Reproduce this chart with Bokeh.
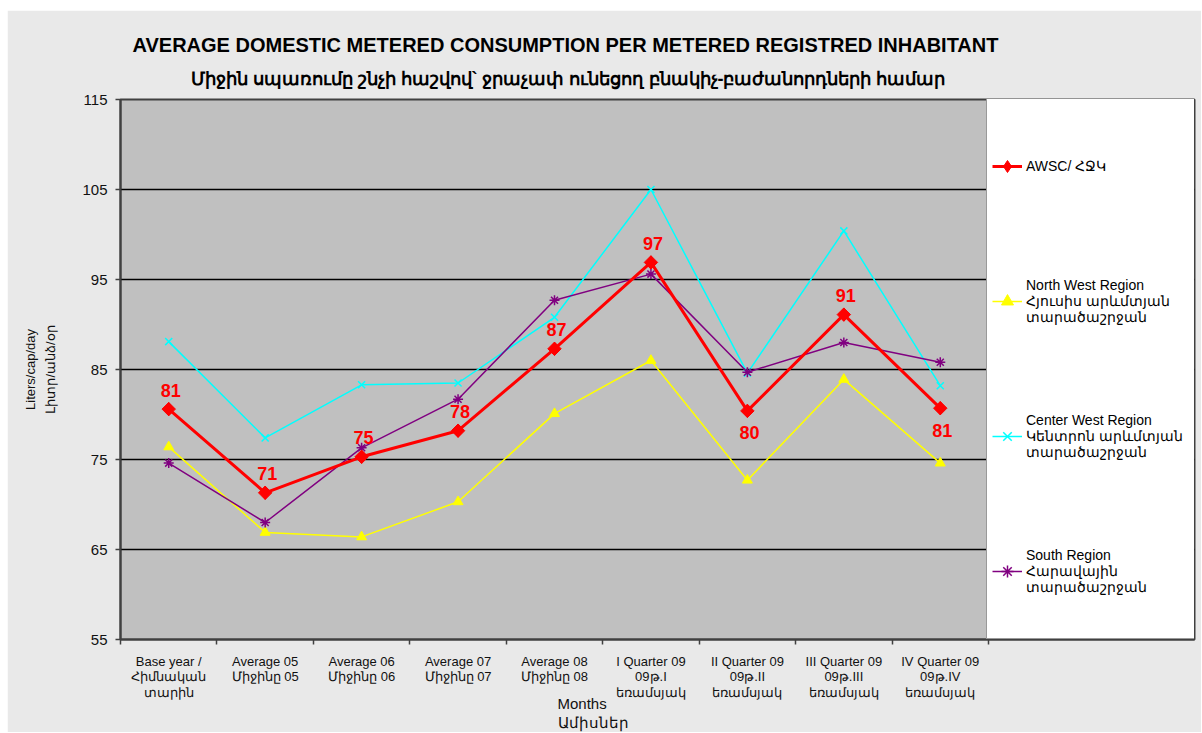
from bokeh.plotting import figure
from bokeh.models import (ColumnDataSource, Range1d, FixedTicker, LabelSet,
                          Legend, LegendItem, Title)
from bokeh.core.properties import value
from bokeh.embed import file_html
from bokeh.resources import INLINE
import math

# ---------------- data ----------------
categories = ["Base year /\nՀիմնական\nտարին",
              "Average 05\nՄիջինը 05",
              "Average 06\nՄիջինը 06",
              "Average 07\nՄիջինը 07",
              "Average 08\nՄիջինը 08",
              "I Quarter 09\n09թ.I\nեռամսյակ",
              "II Quarter 09\n09թ.II\nեռամսյակ",
              "III Quarter 09\n09թ.III\nեռամսյակ",
              "IV Quarter 09\n09թ.IV\nեռամսյակ"]

awsc        = [80.6, 71.3, 75.3, 78.2, 87.3, 96.9, 80.4, 91.1, 80.7]
north_west  = [76.4, 66.9, 66.4, 70.3, 80.1, 86.0, 72.7, 83.9, 74.6]
center_west = [88.1, 77.4, 83.3, 83.5, 90.8, 105.0, 84.6, 100.4, 83.2]
south       = [74.6, 68.0, 76.3, 81.7, 92.7, 95.6, 84.7, 88.0, 85.8]

y_ticks = [55, 65, 75, 85, 95, 105, 115]

series_names = ["AWSC/ ՀՋԿ",
                "North West Region\nՀյուսիս արևմտյան\nտարածաշրջան",
                "Center West Region\nԿենտրոն արևմտյան\nտարածաշրջան",
                "South Region\nՀարավային\nտարածաշրջան"]

title_en = "AVERAGE DOMESTIC METERED CONSUMPTION  PER METERED  REGISTRED INHABITANT"
title_hy = "Միջին սպառումը շնչի հաշվով` ջրաչափ ունեցող բնակիչ-բաժանորդների համար"
y_label = "Liters/cap/day\nԼիտր/անձ/օր"
x_label = "Months\nԱմիսներ"

# ---------------- figure ----------------
FONT = "Liberation Sans"
xs = list(range(len(categories)))

W, H = 1194, 722
LEFT, TOP = 113, 89
PLOT_W, FRAME_H = 868, 540          # category area width, frame height
FRAME_W = W - LEFT - 7              # frame also hosts the legend box on its right
x_end = -0.5 + len(categories) * FRAME_W / PLOT_W

p = figure(width=W, height=H, title=None, margin=(10, 0, 0, 7),
           x_range=Range1d(-0.5, x_end),
           y_range=Range1d(y_ticks[0], y_ticks[-1]),
           output_backend="svg", toolbar_location=None,
           min_border_left=LEFT, min_border_right=W - LEFT - FRAME_W,
           min_border_top=TOP, min_border_bottom=H - TOP - FRAME_H)

p.background_fill_color = "#c0c0c0"
p.border_fill_color = "#e9e9e9"
p.outline_line_color = "#404040"
p.outline_line_width = 2

# titles (second line added first so it sits closest to the plot)
p.add_layout(Title(text=title_hy, align="left", offset=70, text_font=FONT,
                   text_font_size="18px", text_font_style="bold",
                   text_color="black", standoff=22), "above")
p.add_layout(Title(text=title_en, align="left", offset=12, text_font=FONT,
                   text_font_size="20px", text_font_style="bold",
                   text_color="black", standoff=0), "above")

# grid
p.xgrid.visible = False
p.ygrid.ticker = FixedTicker(ticks=y_ticks)
p.ygrid.grid_line_color = "black"
p.ygrid.grid_line_width = 1.5

# y axis
p.yaxis.ticker = FixedTicker(ticks=y_ticks)
p.yaxis.axis_line_color = "#404040"
p.yaxis.axis_line_width = 2
p.yaxis.major_tick_line_color = "#404040"
p.yaxis.major_tick_line_width = 1.5
p.yaxis.major_tick_out = 5
p.yaxis.major_tick_in = 0
p.yaxis.minor_tick_line_color = None
p.yaxis.major_label_standoff = 8
p.yaxis.major_label_text_font = FONT
p.yaxis.major_label_text_font_size = "15px"
p.yaxis.major_label_text_color = "#111111"
p.yaxis.axis_label = y_label
p.yaxis.axis_label_text_font = FONT
p.yaxis.axis_label_text_font_size = "13px"
p.yaxis.axis_label_text_font_style = "normal"
p.yaxis.axis_label_text_color = "#111111"
p.yaxis.axis_label_text_line_height = 1.35
p.yaxis.axis_label_standoff = 21

# x axis
p.xaxis.ticker = FixedTicker(ticks=xs, minor_ticks=[i - 0.5 for i in range(len(xs) + 1)])
p.xaxis.major_label_overrides = {i: c for i, c in zip(xs, categories)}
p.xaxis.axis_line_color = "#404040"
p.xaxis.axis_line_width = 2
p.xaxis.major_tick_line_color = None
p.xaxis.major_tick_out = 0
p.xaxis.major_tick_in = 0
p.xaxis.minor_tick_line_color = "#404040"
p.xaxis.minor_tick_line_width = 1.5
p.xaxis.minor_tick_out = 5
p.xaxis.minor_tick_in = 0
p.xaxis.major_label_standoff = 9
p.xaxis.major_label_text_font = FONT
p.xaxis.major_label_text_font_size = "13px"
p.xaxis.major_label_text_line_height = 1.05
p.xaxis.major_label_text_color = "#111111"

# x axis title, placed under the category area
p.add_layout(Title(text=x_label, align="left", offset=437, text_font=FONT,
                   text_font_size="15px", text_font_style="normal",
                   text_line_height=1.15, text_color="#111111",
                   vertical_align="top", standoff=-18), "below")

# ---------------- series ----------------
src_awsc = ColumnDataSource(dict(x=xs, y=awsc, txt=[f"{v:.0f}" for v in awsc],
                                 dy=[-22 if i in (6, 8) else 19 for i in xs]))
src_nw = ColumnDataSource(dict(x=xs, y=north_west))
src_cw = ColumnDataSource(dict(x=xs, y=center_west))
src_s = ColumnDataSource(dict(x=xs, y=south))

l_nw = p.line("x", "y", source=src_nw, color="#ffff00", line_width=1.5)
m_nw = p.scatter("x", "y", source=src_nw, marker="triangle", size=10,
                 fill_color="#ffff00", line_color="#ffff00")
l_cw = p.line("x", "y", source=src_cw, color="#00ffff", line_width=1.5)
m_cw = p.scatter("x", "y", source=src_cw, marker="x", size=10,
                 line_color="#00ffff", line_width=1.5)
l_s = p.line("x", "y", source=src_s, color="#800080", line_width=1.5)
m_s = p.scatter("x", "y", source=src_s, marker="asterisk", size=10,
                line_color="#800080", line_width=1.5)
l_a = p.line("x", "y", source=src_awsc, color="#ff0000", line_width=3)
m_a_leg = p.scatter("x", "y", source=src_awsc, marker="diamond", size=13,
                    fill_color="#ff0000", line_color="#ff0000")
m_a = p.scatter("x", "y", source=src_awsc, marker="square", size=9.5, angle=math.pi / 4,
                fill_color="#ff0000", line_color="#ff0000")

labels = LabelSet(x="x", y="y", text="txt", y_offset="dy", x_offset=2, source=src_awsc,
                  text_align="center", text_baseline="middle",
                  text_font=value(FONT), text_font_size=value("18px"),
                  text_font_style="bold", text_color="#ff0000")
p.add_layout(labels)

# ---------------- legend (inside the frame, right of the category area) ----------------
LEG_PAD, LEG_GLYPH, LEG_STAND = 5, 30, 4
legend = Legend(items=[
    LegendItem(label=series_names[0], renderers=[l_a, m_a_leg]),
    LegendItem(label=series_names[1], renderers=[l_nw, m_nw]),
    LegendItem(label=series_names[2], renderers=[l_cw, m_cw]),
    LegendItem(label=series_names[3], renderers=[l_s, m_s]),
], location=(PLOT_W - 2, 0), margin=0, padding=LEG_PAD, spacing=11,
    glyph_width=LEG_GLYPH, glyph_height=124, label_height=124,
    label_width=FRAME_W - PLOT_W + 2 - 2 * LEG_PAD - LEG_GLYPH - LEG_STAND,
    label_standoff=LEG_STAND,
    label_text_font=FONT, label_text_font_size="14px", label_text_line_height=1.28,
    label_text_color="black",
    border_line_color="#333333", border_line_width=1.5,
    background_fill_color="white", background_fill_alpha=1.0)
p.add_layout(legend)

open("out.html", "w").write(file_html(p, INLINE))
